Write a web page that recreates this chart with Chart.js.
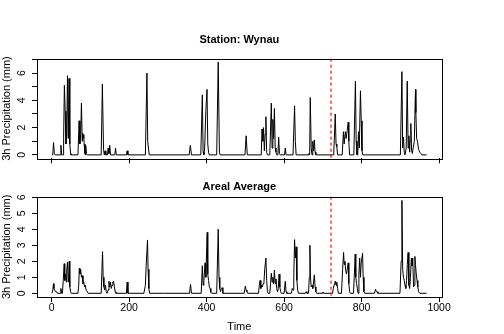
<!DOCTYPE html>
<html><head><meta charset="utf-8">
<script src="https://cdn.jsdelivr.net/npm/chart.js@4/dist/chart.umd.min.js"></script>
<style>
html,body{margin:0;padding:0;background:#fff;overflow:hidden}
#wrap{position:relative;width:504px;height:334px;background:#fff}
canvas{position:absolute;left:0}
</style></head>
<body><div id="wrap">
<canvas id="c1" width="504" height="167" style="top:0"></canvas>
<canvas id="c2" width="504" height="167" style="top:167px"></canvas>
</div>
<script>
// ---- data ----
const xMin = -37.68, xMax = 1006.68;
const xTicks = [0, 200, 400, 600, 800, 1000];
const splitTime = 720;

const wynauTicks = [0, 1, 2, 3, 4, 5, 6, 7];
const wynauLabels = [0, 2, 4, 6];
const arealTicks = [0, 1, 2, 3, 4, 5, 6];
const arealLabels = [0, 1, 2, 3, 4, 5, 6];

const wynauTime = [1,3,5,7,9, 22,24,26, 30,31,33,35,37,39,41,43,45,47,49,50,
  68,71,73,75,77,79,80,82,83,84,86,87,88,90,92,
  128,131,134,136,138,140,144,146,148,150,152, 163,165,167, 193,195,197,
  242,246,248,250,252, 355,358,361,
  385,389,391,393,395,398,401,403,405,407, 426,430,433,435, 499,502,505,
  541,543,545,547,549,551,553,555,557,563,567,569,571,573,575,577,579,581,584,586,588,590,
  601,603,605, 623,627,629,631,
  662,664,666,667.5,670,672,674,676,678,680,682,
  728,732,734,736,738, 750,753,755,758,760,763,765.5,767,769,
  780,784,786,788,790,792,794,797,799,801,803,
  900,904,906,908,910,912,915,917.7,920,922,924,925,927,929,931,933,936,939,940,942,944,947,950,953,955,968];
const wynauPrecip = [0,0,0.9,0.1,0, 0,0.7,0, 0,1.2,5.1,3.2,0.8,1.5,5.8,1.2,5.6,0.8,0.1,0,
  0,2.5,0.8,1.5,3.8,1.0,1.6,1.2,1.5,0.8,0.1,0,0.7,0.1,0,
  0,5.2,0.4,0,0.3,0,0,0.5,0.1,0.7,0, 0,0.5,0, 0,0.3,0,
  0,6.0,1.0,0.5,0, 0,0.7,0,
  0,4.4,0.2,0,0.5,3.2,4.8,0.8,0.2,0, 0,6.8,0.2,0, 0,1.4,0,
  0,1.9,1.0,2.0,0.3,1.5,2.8,0.2,0,0,3.8,0.5,2.6,1.2,3.4,0.5,0.2,0,0,1.3,0.1,0,
  0,0.5,0, 0,3.6,1.0,0,
  0,0.1,0,4.2,0.5,0,1.0,0.3,1.1,0.2,0,
  0,3.0,0.8,0.6,0, 0,1.7,0.8,1.7,1.2,1.8,2.4,1.0,0,
  0,5.4,1.0,0,0,1.7,0.5,4.7,2.5,0.3,0,
  0,6.1,0.5,1.3,0.2,0,0.5,5.4,0.5,1.4,0.2,1.0,2.3,0.3,0.1,0.5,1.0,4.8,3.1,1.2,1.0,0.4,0.2,0.1,0,0];

const arealTime = [1,3,5,6,8,10,13,15, 22,24,26,
  28,30,32.5,34,36,38,39,41,43,44,45.5,47,49,51,
  68,70,71.5,73,75,77,79,81,83,85,87,89,92,94,
  128,131.5,133,135,137,139,141,143,146,148,150,152,154,156,158,160,162,164,166,
  193,195,197, 238,242,244,247.5,249,251,253, 288,290,292, 356,358.5,361,
  386,389,391,393,396,398,401.5,403,405,407,409,411,413,
  426,430,432,434,436,438,440,442, 497,500,502,504,506,
  534,536,538,540,542,544,546,548,550,553,555,557,559,
  563,565,567,569,571,573,575,577,579,581,583,585,587,589,591,593,
  600,603,605,607, 619,621,623,625,627,629,631,633,635,637,
  655,657,659,663,665,666.6,668,670,672,674,676,678,680,682,684,
  698,700,702, 725,727,730,732,734,736,738,740,
  748,751,753.5,755,757,759,761,763,765.5,767,769,771,
  779,781,783.5,785,787,789,791,793,795,797,799,802.5,804,806,808,
  833,836,838,840,842,
  899,902,904,906,908,910,912,914,916,918,920,922,924,926,928.5,930,932,934,936,937.5,939,941,943,945,947,950,968];
const arealPrecip = [0,0.2,0.6,0.3,0.2,0.1,0.1,0, 0,0.3,0,
  0,0.8,1.85,0.8,1.2,0.7,1.4,1.95,0.7,0.9,2.0,0.4,0.1,0,
  0,0.5,1.55,1.2,1.5,1.0,1.1,0.6,0.7,0.4,0.5,0.2,0.1,0,
  0,2.6,1.0,0.4,0.2,0.5,0.1,0,0.2,0.75,0.4,0.7,0.3,0.5,0.7,0.75,0.4,0.1,0,
  0,0.7,0, 0,0.5,1.7,3.33,1.5,0.3,0, 0,0.02,0, 0,0.55,0,
  0,1.72,0.5,0.8,1.9,1.0,3.8,1.2,0.8,0.4,0.3,0.05,0,
  0,4.0,1.0,0.3,0.1,0.3,0.35,0, 0,0.45,0.2,0.1,0,
  0,0.5,0.8,0.3,0.5,0.4,0.6,0.7,1.5,2.2,0.8,0.1,0,
  0,0.6,1.25,0.7,1.0,0.6,1.45,0.6,0.9,0.3,0.1,0.3,1.2,0.4,0.1,0,
  0,0.75,0.1,0, 0,0.3,0.2,1.0,3.35,2.2,2.9,0.8,0.2,0,
  0,0.1,0,0,1.0,3.0,1.0,0.4,0.5,0.3,0.7,1.15,0.4,0.1,0,
  0,0.08,0, 0,0.3,0.6,0.75,0.5,0.7,0.3,0,
  0,1.5,2.55,1.8,2.0,1.4,1.2,1.5,1.9,0.6,0.1,0,
  0,1.0,2.45,1.0,0.6,0.3,0,1.2,2.2,1.0,1.9,2.5,1.0,0.1,0,
  0,0.25,0.1,0.1,0,
  0,2.0,5.8,1.5,1.0,0.8,0.5,0.3,0.8,1.8,2.55,0.5,0.3,1.0,2.2,1.7,2.2,0.4,0.5,2.3,1.8,1.2,0.8,0.4,0.1,0,0];

// ---- drawing ----
const FONT = '"Liberation Sans", Arial, Helvetica, sans-serif';

const rDecor = {
  id: 'rDecor',
  afterDatasetsDraw(chart, args, opts) {
    const {ctx, chartArea: a, scales: {x, y}} = chart;
    ctx.save();
    const px = Math.round(x.getPixelForValue(opts.split));
    ctx.strokeStyle = 'rgb(255,0,0)';
    ctx.lineWidth = 1.2;
    ctx.setLineDash([3, 3]);
    ctx.beginPath(); ctx.moveTo(px, a.top); ctx.lineTo(px, a.bottom); ctx.stroke();
    ctx.setLineDash([]);
    ctx.lineWidth = 1;
    ctx.strokeStyle = '#000';
    ctx.strokeRect(Math.round(a.left) + 0.5, Math.round(a.top) + 0.5,
                   Math.round(a.right - a.left), Math.round(a.bottom - a.top));
    ctx.fillStyle = '#000';
    ctx.font = '10.5px ' + FONT;
    ctx.textAlign = 'center';
    ctx.textBaseline = 'middle';
    for (const v of opts.yLabels) {
      const py = y.getPixelForValue(v);
      ctx.save();
      ctx.translate(opts.labelX, py);
      ctx.rotate(-Math.PI / 2);
      ctx.fillText(String(v), 0, 0);
      ctx.restore();
    }
    ctx.restore();
  }
};

function makeChart(id, cfg) {
  const tickGrid = { display: true, drawOnChartArea: false, drawTicks: true, tickLength: 5, color: '#000', lineWidth: 1 };
  return new Chart(document.getElementById(id), {
    type: 'line',
    data: { datasets: [{
      data: cfg.time.map((t, i) => ({ x: t, y: cfg.precip[i] })),
      borderColor: '#000', borderWidth: 1, pointRadius: 0, tension: 0, fill: false
    }] },
    options: {
      responsive: false, animation: false, devicePixelRatio: 1, events: [],
      layout: { padding: { left: 0, right: 62.3, top: 0, bottom: 0 } },
      plugins: {
        legend: { display: false }, tooltip: { enabled: false },
        title: { display: true, text: cfg.title, fullSize: false, color: '#000',
                 font: { family: FONT, size: 11, weight: 'bold' },
                 padding: { top: cfg.titleTop, bottom: cfg.titleBottom } },
        rDecor: { split: splitTime, yLabels: cfg.yLabels, labelX: 22.5 }
      },
      scales: {
        x: {
          type: 'linear', min: xMin, max: xMax,
          afterBuildTicks: s => { s.ticks = xTicks.map(v => ({ value: v })); },
          afterFit: s => { s.height = cfg.xHeight; },
          ticks: { display: cfg.xLabels, color: '#000', font: { family: FONT, size: 10.5 }, padding: 0,
                   maxRotation: 0, minRotation: 0, autoSkip: false, callback: v => String(v) },
          grid: tickGrid,
          border: { display: false },
          title: { display: cfg.xLabels, text: 'Time', color: '#000', font: { family: FONT, size: 11 },
                   padding: { top: 0, bottom: 0.9 } }
        },
        y: {
          type: 'linear', min: cfg.yMin, max: cfg.yMax,
          afterBuildTicks: s => { s.ticks = cfg.yTicks.map(v => ({ value: v })); },
          afterFit: s => { s.width = 37; },
          ticks: { display: false },
          grid: tickGrid,
          border: { display: false },
          title: { display: true, text: '3h Precipitation (mm)', color: '#000', font: { family: FONT, size: 11 },
                   padding: { top: 0.4, bottom: 0 } }
        }
      }
    },
    plugins: [rDecor]
  });
}

makeChart('c1', { time: wynauTime, precip: wynauPrecip, title: 'Station: Wynau',
  titleTop: 33.4, titleBottom: 12.1, xHeight: 8.7, xLabels: false,
  yMin: -0.25, yMax: 7.05, yTicks: wynauTicks, yLabels: wynauLabels });
makeChart('c2', { time: arealTime, precip: arealPrecip, title: 'Areal Average',
  titleTop: 13.4, titleBottom: 3.1, xHeight: 37, xLabels: true,
  yMin: -0.232, yMax: 6.032, yTicks: arealTicks, yLabels: arealLabels });
</script>
</body></html>
